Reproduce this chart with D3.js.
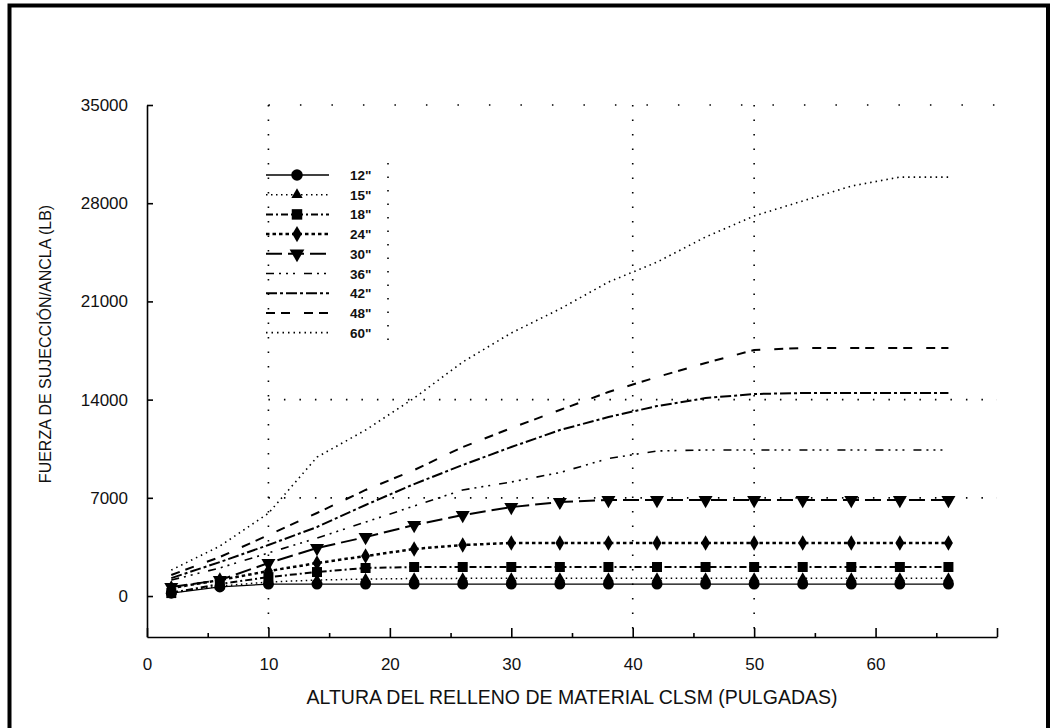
<!DOCTYPE html>
<html>
<head>
<meta charset="utf-8">
<script src="https://cdn.jsdelivr.net/npm/d3@7"></script>
<style>
  body { margin: 0; background: #fff; }
  svg { display: block; }
</style>
</head>
<body>
<div id="chart"></div>
<script>
// altura del relleno (pulgadas)
const heights = [2, 6, 10, 14, 18, 22, 26, 30, 34, 38, 42, 46, 50, 54, 58, 62, 66];

// fuerza de sujecion por ancla (lb), una serie por diametro
const s12 = [200, 650, 850, 850, 850, 850, 850, 850, 850, 850, 850, 850, 850, 850, 850, 850, 850];
const s15 = [290, 710, 1000, 1140, 1210, 1250, 1260, 1260, 1260, 1260, 1260, 1260, 1260, 1260, 1260, 1260, 1260];
const s18 = [210, 860, 1350, 1710, 2000, 2070, 2070, 2070, 2070, 2070, 2070, 2070, 2070, 2070, 2070, 2070, 2070];
const s24 = [570, 1140, 1780, 2350, 2850, 3350, 3640, 3780, 3780, 3780, 3780, 3780, 3780, 3780, 3780, 3780, 3780];
const s30 = [640, 1140, 2350, 3420, 4200, 5060, 5770, 6340, 6700, 6840, 6840, 6840, 6840, 6840, 6840, 6840, 6840];
const s36 = [1140, 2000, 3070, 4130, 5270, 6420, 7560, 8130, 8800, 9800, 10340, 10410, 10410, 10410, 10410, 10410, 10410];
const s42 = [1280, 2420, 3640, 4920, 6490, 7980, 9340, 10620, 11830, 12760, 13540, 14110, 14400, 14470, 14470, 14470, 14470];
const s48 = [1500, 2780, 4350, 5920, 7560, 8980, 10620, 11970, 13260, 14540, 15610, 16610, 17540, 17680, 17680, 17680, 17680];
const s60 = [1850, 3560, 5900, 9900, 11830, 14110, 16680, 18750, 20460, 22380, 23800, 25590, 27090, 28160, 29220, 29860, 29860];

const seriesLabels = ['12"', '15"', '18"', '24"', '30"', '36"', '42"', '48"', '60"'];
const yTicks = [0, 7000, 14000, 21000, 28000, 35000];
const xMajorTicks = [0, 10, 20, 30, 40, 50, 60, 70];
const xMinorTicks = [5, 15, 25, 35, 45, 55, 65];
const gridX = [10, 40, 50];
const gridY = [7000, 14000, 35000];

const series = [s12, s15, s18, s24, s30, s36, s42, s48, s60];

// estilo de cada serie (mismo orden que seriesLabels)
const styles = [
    {dash: null, width: 1.3, symbol: d3.symbolCircle, size: 95, rot: 0},
    {dash: '1.5,3.5', width: 1.5, symbol: d3.symbolTriangle, size: 50, rot: 0},
    {dash: '7,3,2,3', width: 2, symbol: d3.symbolSquare, size: 100, rot: 0},
    {dash: '3.5,3', width: 2.5, symbol: d3.symbolDiamond, size: 70, rot: 0},
    {dash: '16,6', width: 2, symbol: d3.symbolTriangle, size: 85, rot: 180},
    {dash: '8,5,2,5,2,5,2,9', width: 1.6, symbol: null},
    {dash: '11,3,3,3', width: 2, symbol: null},
    {dash: '9,6,9,14', width: 2, symbol: null},
    {dash: '1.5,4', width: 1.6, symbol: null}
];

const width = 1055, height = 728;
const svg = d3.select('#chart').append('svg')
    .attr('width', width)
    .attr('height', height)
    .attr('style', 'background-color: white');

// marco exterior
svg.append('rect')
    .attr('x', 9.5).attr('y', 5.5)
    .attr('width', 1038.5).attr('height', 760)
    .attr('fill', 'none')
    .attr('stroke', '#000')
    .attr('stroke-width', 4);

const x = d3.scaleLinear().domain([0, 70]).range([147, 997]);
const y = d3.scaleLinear().domain([-2920, 35000]).range([637, 105]);

// rejilla punteada
const grid = svg.append('g').attr('stroke', '#000').attr('stroke-width', 1.6);
grid.selectAll('.gx').data(gridX).enter().append('line')
    .attr('x1', d => x(d)).attr('x2', d => x(d))
    .attr('y1', y(35000)).attr('y2', y.range()[0])
    .attr('stroke-dasharray', '1.5,13');
grid.selectAll('.gy').data(gridY).enter().append('line')
    .attr('x1', x(10)).attr('x2', x(70))
    .attr('y1', d => y(d)).attr('y2', d => y(d))
    .attr('stroke-dasharray', d => d === 35000 ? '1.5,30' : '1.5,14');

// ejes
const fontFamily = '"Liberation Sans", Arial, sans-serif';
const yAxis = d3.axisLeft(y)
    .tickValues(yTicks)
    .tickSizeInner(-6)
    .tickSizeOuter(0)
    .tickPadding(19)
    .tickFormat(d3.format('d'));
const gy = svg.append('g')
    .attr('transform', 'translate(147,0)')
    .call(yAxis);
gy.selectAll('text').attr('font-size', 17).attr('font-family', fontFamily).attr('fill', '#111');
gy.selectAll('path, line').attr('stroke', '#000').attr('stroke-width', 1.6);

const xAxis = d3.axisBottom(x)
    .tickValues(xMajorTicks)
    .tickSizeInner(-9)
    .tickSizeOuter(0)
    .tickPadding(21)
    .tickFormat(d => d <= 60 ? d : '');
const gx = svg.append('g')
    .attr('transform', 'translate(0,637)')
    .call(xAxis);
gx.selectAll('text').attr('font-size', 17).attr('font-family', fontFamily).attr('fill', '#111');
gx.selectAll('path, line').attr('stroke', '#000').attr('stroke-width', 1.6);

const xAxisMinor = d3.axisBottom(x)
    .tickValues(xMinorTicks)
    .tickSizeInner(-4)
    .tickSizeOuter(0)
    .tickFormat('');
const gxm = svg.append('g')
    .attr('transform', 'translate(0,637)')
    .call(xAxisMinor);
gxm.select('.domain').remove();
gxm.selectAll('line').attr('stroke', '#000').attr('stroke-width', 1.6);

// titulos de ejes
svg.append('text')
    .attr('x', (x.range()[0] + x.range()[1]) / 2)
    .attr('y', 704)
    .attr('text-anchor', 'middle')
    .attr('font-size', 19.5)
    .attr('font-family', fontFamily)
    .attr('fill', '#111')
    .text('ALTURA DEL RELLENO DE MATERIAL CLSM (PULGADAS)');

svg.append('text')
    .attr('transform', 'translate(51,' + 344 + ') rotate(-90)')
    .attr('text-anchor', 'middle')
    .attr('font-size', 16)
    .attr('font-family', fontFamily)
    .attr('fill', '#111')
    .text('FUERZA DE SUJECCIÓN/ANCLA (LB)');

// curvas
const line = d3.line()
    .x((d, i) => x(heights[i]))
    .y(d => y(d));

const plot = svg.append('g');
series.forEach((values, k) => {
    const st = styles[k];
    plot.append('path')
        .datum(values)
        .attr('d', line)
        .attr('fill', 'none')
        .attr('stroke', '#000')
        .attr('stroke-width', st.width)
        .attr('stroke-dasharray', st.dash);
    if (st.symbol) {
        plot.selectAll('.m' + k)
            .data(values)
            .enter().append('path')
            .attr('transform', (d, i) => 'translate(' + x(heights[i]) + ',' + y(d) + ') rotate(' + st.rot + ')')
            .attr('d', d3.symbol().type(st.symbol).size(st.size))
            .attr('fill', '#000');
    }
});

// leyenda
const legend = svg.append('g');
const legendTop = 175, legendStep = 19.7;
seriesLabels.forEach((label, k) => {
    const st = styles[k];
    const ly = legendTop + k * legendStep;
    legend.append('line')
        .attr('x1', 266).attr('x2', 329)
        .attr('y1', ly).attr('y2', ly)
        .attr('stroke', '#000')
        .attr('stroke-width', st.width)
        .attr('stroke-dasharray', st.dash);
    if (st.symbol) {
        legend.append('path')
            .attr('transform', 'translate(297,' + ly + ') rotate(' + st.rot + ')')
            .attr('d', d3.symbol().type(st.symbol).size(st.size * 1.1))
            .attr('fill', '#000');
    }
    legend.append('text')
        .attr('x', 350)
        .attr('y', ly + 5)
        .attr('font-size', 13.5)
        .attr('font-weight', 'bold')
        .attr('font-family', fontFamily)
        .attr('fill', '#111')
        .text(label);
});
legend.append('line')
    .attr('x1', 388).attr('x2', 388)
    .attr('y1', 163).attr('y2', 348)
    .attr('stroke', '#000')
    .attr('stroke-width', 1.6)
    .attr('stroke-dasharray', '1.5,12');
</script>
</body>
</html>
